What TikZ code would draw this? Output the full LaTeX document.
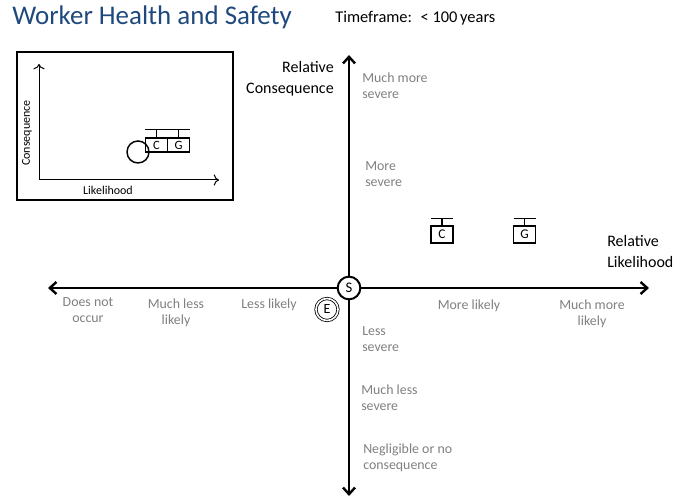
\documentclass[tikz,border=0pt]{standalone}
\usepackage{fontspec}
\setmainfont{Carlito}
\usetikzlibrary{arrows.meta}
\definecolor{heading}{HTML}{1F497D}
\definecolor{lvl}{HTML}{808080}

\begin{document}
\begin{tikzpicture}[x=0.75pt, y=-0.75pt,
    lvl/.style={color=lvl, font=\fontsize{10.4}{12}\selectfont, inner sep=0pt},
    axname/.style={font=\fontsize{12}{15.75}\selectfont, inner sep=0pt},
    tbox/.style={draw, line width=1.1pt, minimum width=16.5pt, minimum height=12.75pt, inner sep=0pt, font=\fontsize{10}{10}\selectfont},
    smallbox/.style={draw, line width=1.1pt, minimum width=16.5pt, minimum height=10.5pt, inner sep=0pt, font=\fontsize{9.5}{9}\selectfont}]
    \useasboundingbox (0,0) rectangle (674,498);

    % title
    \node at (12,25) (title) [anchor=base west, inner sep=0pt, color=heading, font=\fontsize{20.2}{22}\selectfont] {Worker Health and Safety};
    \node at (335,23) (time) [anchor=base west, inner sep=0pt, font=\fontsize{12.3}{14}\selectfont] {Timeframe:~ < 100\,years};

    % inset
    \draw[line width=1.5pt] (17,52) rectangle (233,200);
    \coordinate (io) at (39,180);
    \coordinate (iy) at (39,64);
    \coordinate (ix) at (219,180);
    \draw[line width=0.75pt, -{To[length=4pt]}] (io) -- (iy);
    \draw[line width=0.75pt, -{To[length=4pt]}] (io) -- (ix);
    \node at (27,133) (icons) [rotate=90, inner sep=0pt, font=\fontsize{9}{10}\selectfont] {Consequence};
    \node at (108,190) (ilike) [inner sep=0pt, font=\fontsize{9}{10}\selectfont] {Likelihood};
    \node at (138,152) (iE) [draw, circle, line width=1.1pt, minimum size=16.5pt, inner sep=0pt] {};
    \node at (156.5,145) (iC) [smallbox] {C};
    \node at (178.5,145) (iG) [smallbox] {G};
    \draw[line width=1.1pt] (iC.north) -- ++(0,-8);
    \draw[line width=1.1pt] (iG.north) -- ++(0,-8);
    \draw[line width=1.1pt] ([yshift=6pt]iC.north west) -- ([yshift=6pt]iG.north east);

    % axes
    \coordinate (xmin) at (48,288);
    \coordinate (xmax) at (649,288);
    \coordinate (ymin) at (349,496);
    \coordinate (ymax) at (349,55);
    \draw[line width=1.8pt, {Straight Barb[length=5pt, width=9pt]}-{Straight Barb[length=5pt, width=9pt]}] (xmin) -- (xmax);
    \draw[line width=1.8pt, {Straight Barb[length=5pt, width=9pt]}-{Straight Barb[length=5pt, width=9pt]}] (ymin) -- (ymax);
    \node at (349,288) (S) [draw, circle, fill=white, line width=1.5pt, minimum size=17pt, inner sep=0pt, font=\fontsize{11}{12}\selectfont] {S};
    \node at (327,309.5) (E) [draw, circle, double, double distance=1.2pt, line width=0.6pt, minimum size=16.5pt, inner sep=0pt, font=\fontsize{10.5}{12}\selectfont] {E};

    % (base of a two-line node is its last line)
    \node at (334,94) (ycap) [axname, anchor=base east, align=right] {Relative\\Consequence};
    \node at (607,268) (xcap) [axname, anchor=base west, align=left] {Relative\\Likelihood};

    % consequence levels
    \node at (362,99) (sev1) [lvl, anchor=base west, align=left] {Much more\\severe};
    \node at (365,187) (sev2) [lvl, anchor=base west, align=left] {More\\severe};
    \node at (362,352) (sev3) [lvl, anchor=base west, align=left] {Less\\severe};
    \node at (361,411) (sev4) [lvl, anchor=base west, align=left] {Much less\\severe};
    \node at (363,469) (sev5) [lvl, anchor=base west, align=left] {Negligible or no\\consequence};

    % likelihood levels
    \node at (88,323) (lik1) [lvl, anchor=base, align=center] {Does not\\occur};
    \node at (176,324.5) (lik2) [lvl, anchor=base, align=center] {Much less\\likely};
    \node at (269,308.5) (lik3) [lvl, anchor=base] {Less likely};
    \node at (469,309.5) (lik4) [lvl, anchor=base] {More likely};
    \node at (592,325.5) (lik5) [lvl, anchor=base, align=center] {Much more\\likely};

    % hazards
    \node at (442,234.5) (C) [tbox] {C};
    \node at (524.5,234.5) (G) [tbox] {G};
    \draw[line width=1.1pt] (C.north) -- ++(0,-7) coordinate (Ctop);
    \draw[line width=1.1pt] ([xshift=-8.25pt]Ctop) -- ([xshift=8.25pt]Ctop);
    \draw[line width=1.1pt] (G.north) -- ++(0,-7) coordinate (Gtop);
    \draw[line width=1.1pt] ([xshift=-8.25pt]Gtop) -- ([xshift=8.25pt]Gtop);
\end{tikzpicture}
\end{document}
